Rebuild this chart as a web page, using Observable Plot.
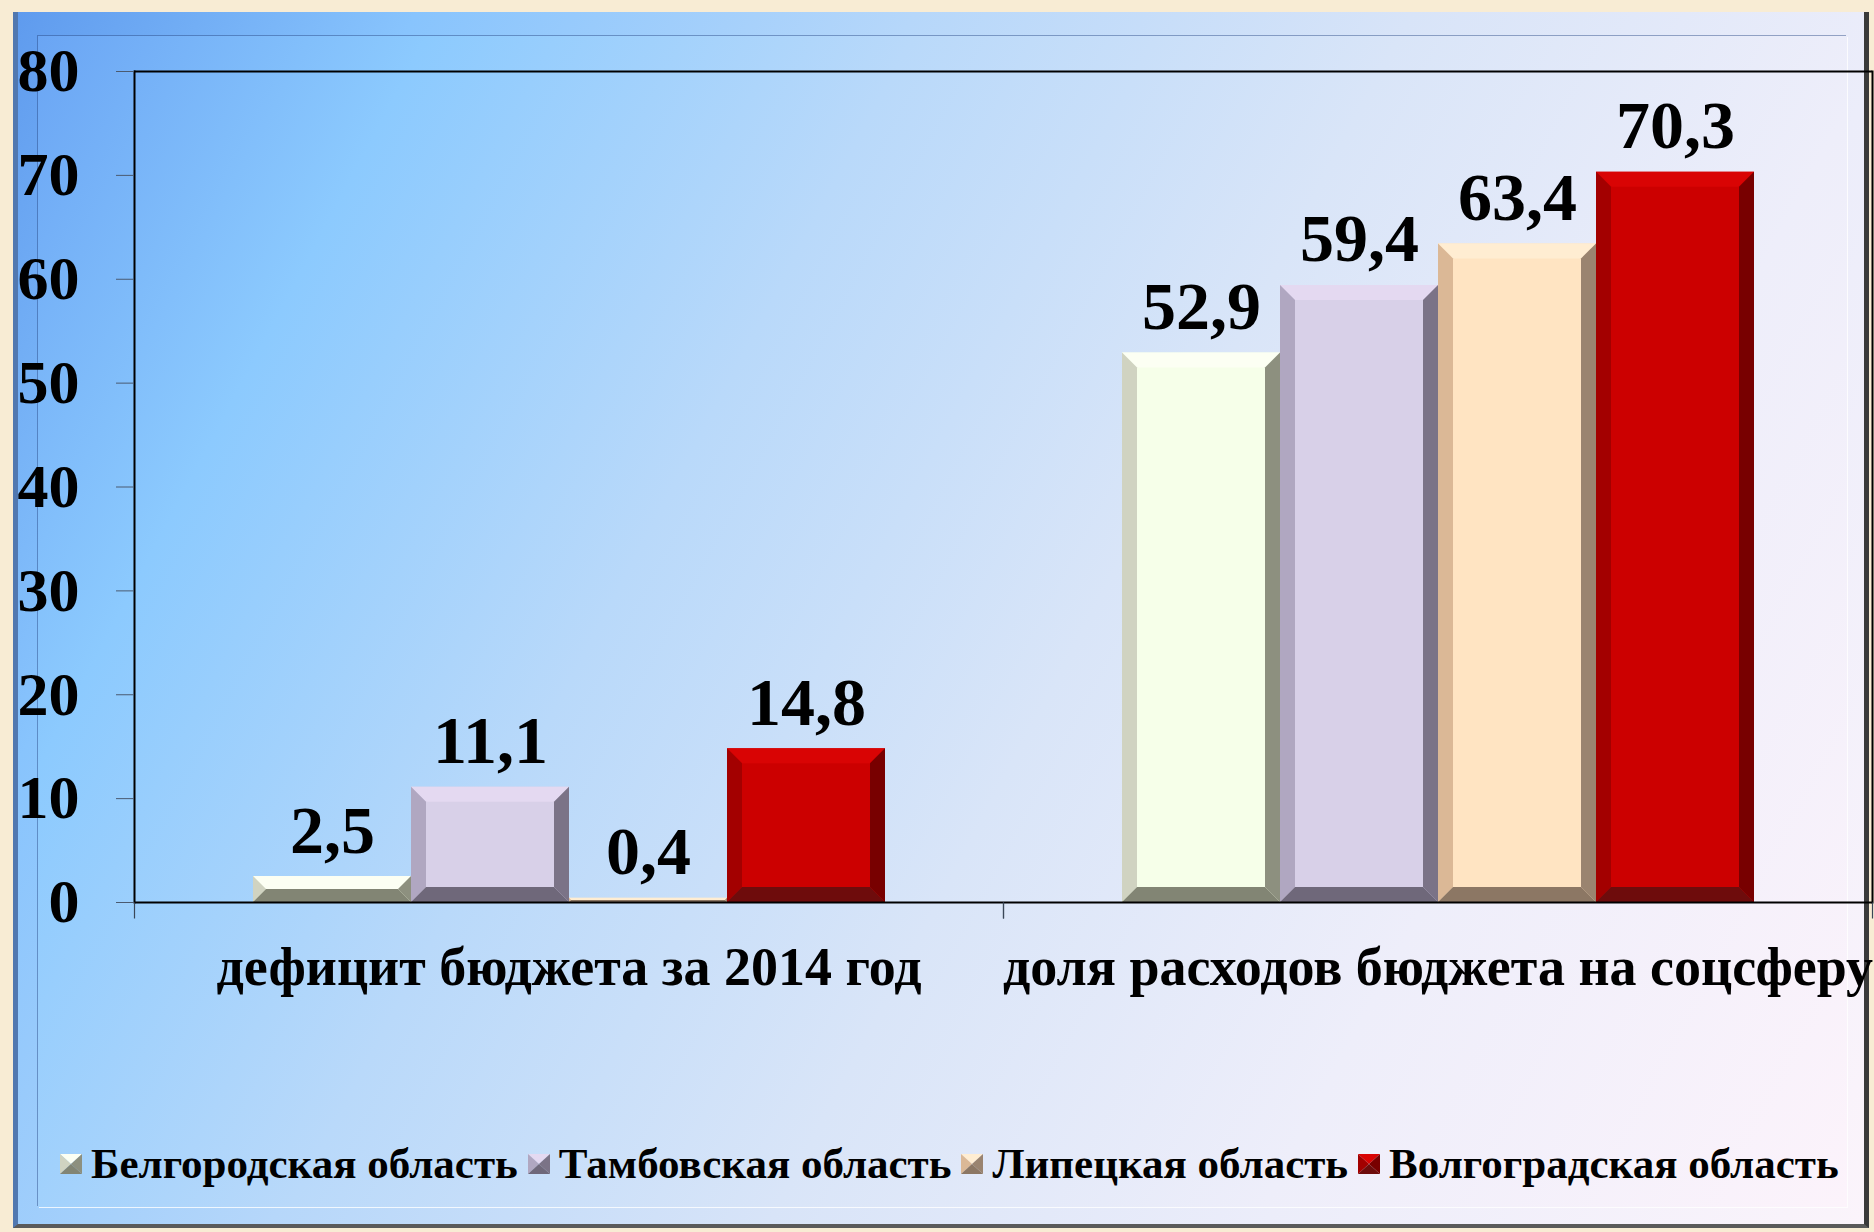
<!DOCTYPE html>
<html>
<head>
<meta charset="utf-8">
<script src="https://cdn.jsdelivr.net/npm/d3@7"></script>
<script src="https://cdn.jsdelivr.net/npm/@observablehq/plot@0.6"></script>
<style>
  html, body { margin: 0; padding: 0; width: 1874px; height: 1232px; overflow: hidden; background: #f8ecd4; }
  body { font-family: "Liberation Serif", "Times New Roman", serif; position: relative; }
  #outer { position: absolute; left: 13px; top: 12px; width: 1856px; height: 1216px;
    background: linear-gradient(118deg, #5f9bee 0%, #88c4fd 16%, #b6d7fa 36%, #d8e4f8 56%, #ecedfa 76%, #fbf4fb 100%);
    border-left: 5px solid #5178b0; border-right: 5px solid #3a3a3a; border-bottom: 4px solid #5a5a5a;
    box-sizing: border-box; }
  #inner { position: absolute; left: 38px; top: 36px; width: 1809px; height: 1171px;
    background: linear-gradient(118deg, #6aa5f4 0%, #8ccafe 16%, #b9d9fa 36%, #d9e5f8 56%, #eeeefa 76%, #fcf3fb 100%);
    box-shadow: -1px -1px 0 rgba(40,70,130,0.45), 1px 1px 0 rgba(255,255,255,0.8); }
  #chart { position: absolute; left: 0; top: 0; }
  #chart svg text { font-weight: 700; }
  #legend { position: absolute; left: 60px; top: 1139px; display: flex; align-items: center;
    font-family: "Liberation Serif", "Times New Roman", serif; font-weight: 700; font-size: 43px; color: #000; white-space: nowrap; }
  #legend .item { display: flex; align-items: center; margin-right: 10px; }
  #legend svg { margin-right: 9px; display: block; }
</style>
</head>
<body>
<div id="outer"></div>
<div id="inner"></div>
<div id="chart"></div>
<div id="legend"></div>
<script>
// ---- data ----
const categories = ["дефицит бюджета за 2014 год", "доля расходов бюджета на соцсферу"];
const regions = ["Белгородская область", "Тамбовская область", "Липецкая область", "Волгоградская область"];
const deficit2014 = [2.5, 11.1, 0.4, 14.8];
const socialShare = [52.9, 59.4, 63.4, 70.3];
const yTicks = [0, 10, 20, 30, 40, 50, 60, 70, 80];

// ---- styles ----
const faceColors   = ["#f6ffe9", "#d8d0e8", "#ffe4c2", "#cc0000"];
const topColors    = ["#fcfff3", "#e4d9f1", "#ffedd2", "#d90404"];
const leftColors   = ["#d0d3c1", "#b0a7c1", "#dbb896", "#a30000"];
const rightColors  = ["#8d907f", "#7b7387", "#9a8470", "#780000"];
const bottomColors = ["#828574", "#6f687a", "#8c7764", "#6e0c0c"];

const table = [];
categories.forEach((cat, ci) => {
  const vals = ci === 0 ? deficit2014 : socialShare;
  regions.forEach((reg, ri) => table.push({cat, region: reg, value: vals[ri]}));
});

const fmt = v => v.toFixed(1).replace(".", ",");

const W = 1874, H = 1010;
const chart = Plot.plot({
  width: W,
  height: H,
  marginLeft: 133,
  marginRight: 2,
  marginTop: 71,
  marginBottom: H - 902,
  style: {background: "transparent", fontFamily: "Liberation Serif, Times New Roman, serif", color: "#000", overflow: "visible"},
  fx: {domain: categories, padding: 0, label: null},
  x: {domain: regions, paddingInner: 0, paddingOuter: 0.733, axis: null},
  y: {domain: [0, 80], label: null},
  color: {domain: regions, range: faceColors},
  marks: [
    Plot.barY(table, {fx: "cat", x: "region", y: "value", fill: "region"}),
    Plot.ruleY([0, 80], {stroke: "#000", strokeWidth: 2}),
    Plot.frame({anchor: "left", facetAnchor: "left", stroke: "#000", strokeWidth: 2}),
    Plot.frame({anchor: "right", facetAnchor: "right", stroke: "#000", strokeWidth: 2}),
    Plot.dot([0], {frameAnchor: "bottom-left", stroke: "#3a4658", strokeWidth: 1.2,
      symbol: {draw(ctx) { ctx.moveTo(0, 0); ctx.lineTo(0, 16); }}}),
    Plot.dot([0], {frameAnchor: "bottom-right", stroke: "#3a4658", strokeWidth: 1.2,
      symbol: {draw(ctx) { ctx.moveTo(0, 0); ctx.lineTo(0, 16); }}}),
    Plot.axisY({ticks: yTicks, tickSize: 18, tickPadding: 37, fontSize: 62, fontWeight: "bold",
      stroke: "#4a5a70", fill: "#000", tickFormat: d => String(d)}),
    Plot.axisFx({anchor: "bottom", tickSize: 0, tickPadding: 44, fontSize: 54, fontWeight: "bold", fill: "#000"}),
    Plot.text(table, {fx: "cat", x: "region", y: "value", text: d => fmt(d.value),
      lineAnchor: "bottom", dy: -24, fontSize: 68, fontWeight: "bold", fill: "#000"})
  ]
});
document.getElementById("chart").appendChild(chart);

// ---- bevel overlay on the bars Plot drew ----
const faceIndex = new Map(faceColors.map((c, i) => [c.toLowerCase(), i]));
d3.select(chart).selectAll('g[aria-label="bar"] rect').each(function() {
  const r = d3.select(this);
  const i = faceIndex.get(String(r.attr("fill")).toLowerCase());
  if (i === undefined) return;
  const x = +r.attr("x"), y = +r.attr("y"), w = +r.attr("width"), h = +r.attr("height");
  const b = Math.min(15, h / 2, w / 2);
  const parent = this.parentNode;
  const polys = [
    [[x, y], [x + w, y], [x + w - b, y + b], [x + b, y + b], topColors[i]],
    [[x, y], [x + b, y + b], [x + b, y + h - b], [x, y + h], leftColors[i]],
    [[x + w, y], [x + w, y + h], [x + w - b, y + h - b], [x + w - b, y + b], rightColors[i]],
    [[x, y + h], [x + b, y + h - b], [x + w - b, y + h - b], [x + w, y + h], bottomColors[i]]
  ];
  for (const p of polys) {
    const fill = p.pop();
    const el = document.createElementNS("http://www.w3.org/2000/svg", "polygon");
    el.setAttribute("points", p.map(q => q.join(",")).join(" "));
    el.setAttribute("fill", fill);
    el.setAttribute("transform", r.attr("transform") || "");
    parent.appendChild(el);
  }
});

// ---- legend ----
const legend = d3.select("#legend");
regions.forEach((reg, i) => {
  const item = legend.append("div").attr("class", "item");
  const s = item.append("svg").attr("width", 22).attr("height", 20);
  s.append("polygon").attr("points", "0,0 22,0 11,10").attr("fill", topColors[i]);
  s.append("polygon").attr("points", "0,0 11,10 0,20").attr("fill", leftColors[i]);
  s.append("polygon").attr("points", "22,0 22,20 11,10").attr("fill", rightColors[i]);
  s.append("polygon").attr("points", "0,20 11,10 22,20").attr("fill", bottomColors[i]);
  item.append("span").text(reg);
});
</script>
</body>
</html>
